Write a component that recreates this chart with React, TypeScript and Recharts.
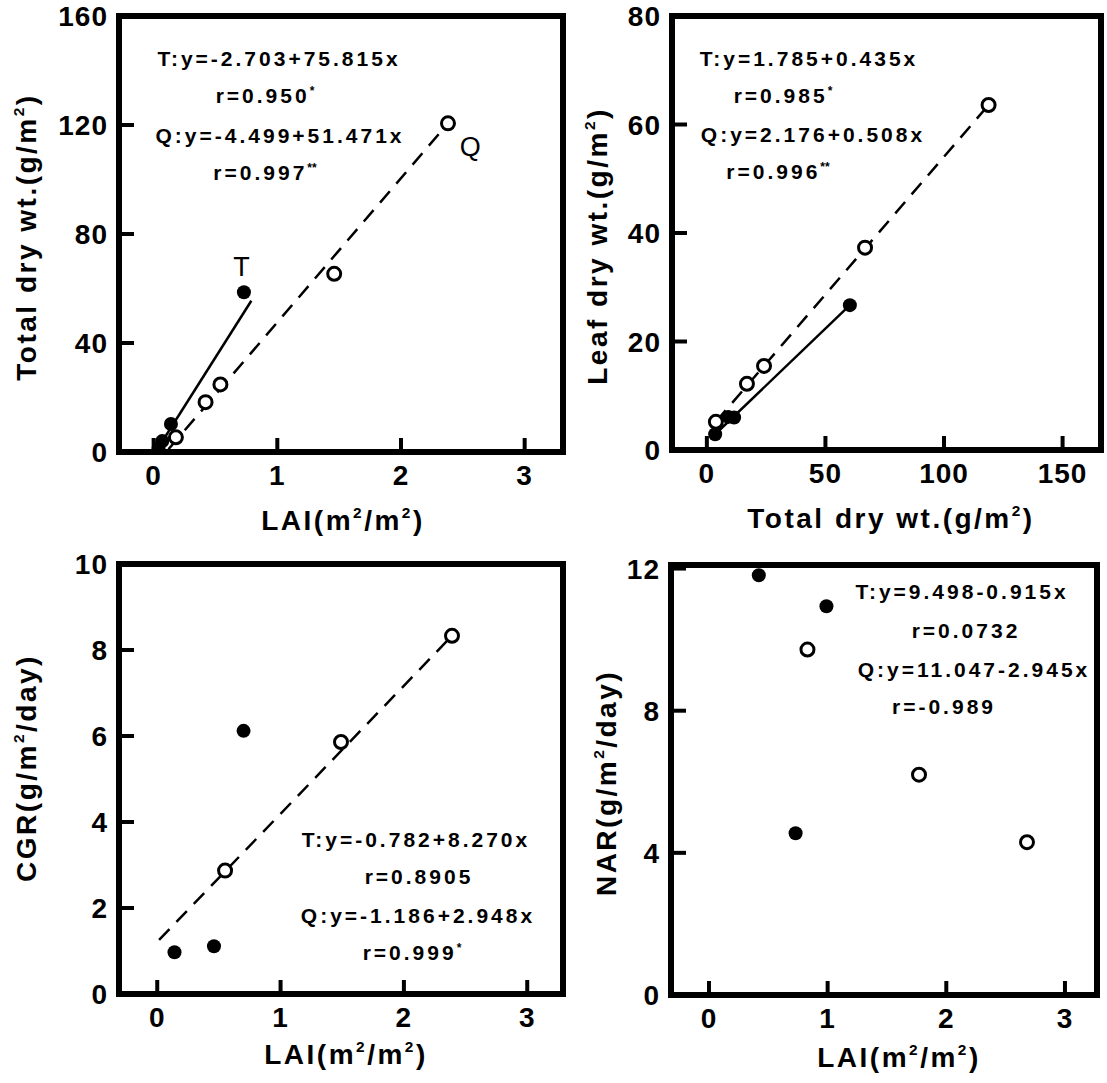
import React from 'react';
import { ScatterChart, Scatter, XAxis, YAxis, ReferenceDot, ReferenceLine } from 'recharts';

const FONT = '"Liberation Sans", Arial, Helvetica, sans-serif';

// top-left: total dry wt. vs LAI
const aLaiT = [0.04, 0.07, 0.14, 0.73];
const aTotT = [1.5, 4, 10.3, 58.6];
const aLaiQ = [0.18, 0.42, 0.54, 1.46, 2.38];
const aTotQ = [5.4, 18.3, 24.8, 65.4, 120.6];
const aFitTx = [0.03, 0.79];
const aFitTy = [1, 55.5];
const aFitQx = [0.12, 2.38];
const aFitQy = [1, 120.6];
const aXTicks = [0, 1, 2, 3];
const aYTicks = [0, 40, 80, 120, 160];

// top-right: leaf dry wt. vs total dry wt.
const bTotT = [3.5, 9, 11.5, 60.3];
const bLeafT = [2.9, 6.1, 6.0, 26.7];
const bTotQ = [3.8, 16.9, 24.1, 66.7, 118.8];
const bLeafQ = [5.2, 12.2, 15.5, 37.3, 63.6];
const bFitTx = [3.5, 60.3];
const bFitTy = [2.9, 26.7];
const bFitQx = [3.8, 118.8];
const bFitQy = [5.2, 63.6];
const bXTicks = [0, 50, 100, 150];
const bYTicks = [0, 20, 40, 60, 80];

// bottom-left: CGR vs LAI
const cLaiT = [0.14, 0.46, 0.7];
const cCgrT = [0.97, 1.11, 6.12];
const cLaiQ = [0.55, 1.49, 2.39];
const cCgrQ = [2.87, 5.86, 8.33];
const cFitQx = [0.015, 2.39];
const cFitQy = [1.26, 8.33];
const cXTicks = [0, 1, 2, 3];
const cYTicks = [0, 2, 4, 6, 8, 10];

// bottom-right: NAR vs LAI
const dLaiT = [0.42, 0.99, 0.73];
const dNarT = [11.81, 10.94, 4.55];
const dLaiQ = [0.83, 1.77, 2.68];
const dNarQ = [9.72, 6.2, 4.3];
const dXTicks = [0, 1, 2, 3];
const dYTicks = [0, 4, 8, 12];

type Pt = { x: number; y: number };
const zip = (xs: number[], ys: number[]): Pt[] => xs.map((x, i) => ({ x, y: ys[i] }));

const Filled = (p: any) => <circle cx={p.cx} cy={p.cy} r={7} fill="#000" />;
const Open = (p: any) => <circle cx={p.cx} cy={p.cy} r={6.5} fill="#fff" stroke="#000" strokeWidth={3} />;
const NoDot = () => <g />;

const labelStyle = { fontFamily: FONT, fontSize: 28, fontWeight: 'bold' as const, letterSpacing: 1 };

const XTick = (p: any) => (
  <text x={p.x} y={p.y} dy="0.71em" textAnchor="middle" fill="#000" {...labelStyle}>{p.payload.value}</text>
);
const YTick = (p: any) => (
  <text x={p.x} y={p.y} dy="0.36em" textAnchor="end" fill="#000" {...labelStyle}>{p.payload.value}</text>
);

type Box = { l: number; t: number; r: number; b: number };

function Panel(props: {
  box: Box;
  xd: [number, number];
  yd: [number, number];
  xt: number[];
  yt: number[];
  filled: Pt[];
  open: Pt[];
  solid?: Pt[];
  dashed?: Pt[];
  marks?: { x: number; y: number; text: string }[];
}) {
  const { box, xd, yd, xt, yt } = props;
  const yw = 110;
  const xh = 70;
  const mt = 30;
  const w = box.r - box.l + yw + 10;
  const h = box.b - box.t + mt + xh;
  // inward tick length (14-15 px) expressed in data units
  const tickY = (14 * (yd[1] - yd[0])) / (box.b - box.t);
  const tickX = (15 * (xd[1] - xd[0])) / (box.r - box.l);
  const edge = { stroke: '#000', strokeWidth: 6, strokeLinecap: 'square' as const, ifOverflow: 'visible' as const };
  return (
    <div style={{ position: 'absolute', left: box.l - yw, top: box.t - mt, width: w, height: h }}>
      <ScatterChart width={w} height={h} margin={{ top: mt, right: 10, left: 0, bottom: 0 }}>
        <XAxis type="number" dataKey="x" domain={xd} ticks={xt} interval={0}
          height={xh} axisLine={false} tickSize={0} tickMargin={13} tickLine={false} tick={XTick} />
        <YAxis type="number" dataKey="y" domain={yd} ticks={yt} interval={0}
          width={yw} axisLine={false} tickSize={0} tickMargin={11} tickLine={false} tick={YTick} />
        {props.solid && (
          <Scatter data={props.solid} fill="none" line={{ stroke: '#000', strokeWidth: 2.5 }}
            shape={NoDot} isAnimationActive={false} />
        )}
        {props.dashed && (
          <Scatter data={props.dashed} fill="none"
            line={{ stroke: '#000', strokeWidth: 2.5, strokeDasharray: '15 10' }}
            shape={NoDot} isAnimationActive={false} />
        )}
        <Scatter data={props.filled} fill="none" shape={Filled} isAnimationActive={false} />
        <Scatter data={props.open} fill="none" shape={Open} isAnimationActive={false} />
        <ReferenceLine x={xd[0]} {...edge} />
        <ReferenceLine x={xd[1]} {...edge} />
        <ReferenceLine y={yd[0]} {...edge} />
        <ReferenceLine y={yd[1]} {...edge} />
        {xt.map((v) => (
          <ReferenceLine key={'xt' + v} segment={[{ x: v, y: yd[0] }, { x: v, y: yd[0] + tickY }]}
            stroke="#000" strokeWidth={4} ifOverflow="visible" />
        ))}
        {yt.map((v) => (
          <ReferenceLine key={'yt' + v} segment={[{ x: xd[0], y: v }, { x: xd[0] + tickX, y: v }]}
            stroke="#000" strokeWidth={4} ifOverflow="visible" />
        ))}
        {(props.marks || []).map((m, i) => (
          <ReferenceDot key={i} x={m.x} y={m.y} r={0} fill="none" stroke="none"
            label={{ value: m.text, position: 'center', fill: '#000', fontSize: 27, fontFamily: FONT }} />
        ))}
      </ScatterChart>
    </div>
  );
}

const Sup = ({ c }: { c: string }) => (
  <sup style={{ fontSize: '0.55em', verticalAlign: 'top', position: 'relative', top: '-0.15em' }}>{c}</sup>
);

function Eq({ x, y, text, mark }: { x: number; y: number; text: string; mark?: string }) {
  return (
    <div style={{
      position: 'absolute', left: x, top: y, transform: 'translate(-50%, -50%)',
      whiteSpace: 'nowrap', fontFamily: FONT, fontWeight: 'bold', fontSize: 21,
      letterSpacing: 3, lineHeight: 1,
    }}>
      {text}
      {mark && <span style={{ fontSize: 12, verticalAlign: 'top', letterSpacing: 0 }}>{mark}</span>}
    </div>
  );
}

function Title({ x, y, rotate, children }: { x: number; y: number; rotate?: boolean; children: React.ReactNode }) {
  return (
    <div style={{
      position: 'absolute', left: x, top: y,
      transform: `translate(-50%, -50%)${rotate ? ' rotate(-90deg)' : ''}`,
      whiteSpace: 'nowrap', fontFamily: FONT, fontSize: 28, fontWeight: 'bold',
      letterSpacing: 2.5, lineHeight: 1,
    }}>
      {children}
    </div>
  );
}

export default function App() {
  return (
    <div style={{ position: 'absolute', left: 0, top: 0, width: 1107, height: 1083, overflow: 'hidden' }}>
      <Panel box={{ l: 119, t: 16, r: 563, b: 452 }} xd={[-0.28, 3.31]} yd={[0, 160]} xt={aXTicks} yt={aYTicks}
        filled={zip(aLaiT, aTotT)} open={zip(aLaiQ, aTotQ)}
        solid={zip(aFitTx, aFitTy)} dashed={zip(aFitQx, aFitQy)}
        marks={[{ x: 0.71, y: 68, text: 'T' }, { x: 2.56, y: 112, text: 'Q' }]} />
      <Panel box={{ l: 672, t: 16, r: 1101, b: 450 }} xd={[-14.7, 166.2]} yd={[0, 80]} xt={bXTicks} yt={bYTicks}
        filled={zip(bTotT, bLeafT)} open={zip(bTotQ, bLeafQ)}
        solid={zip(bFitTx, bFitTy)} dashed={zip(bFitQx, bFitQy)} />
      <Panel box={{ l: 119, t: 564, r: 563, b: 994 }} xd={[-0.31, 3.29]} yd={[0, 10]} xt={cXTicks} yt={cYTicks}
        filled={zip(cLaiT, cCgrT)} open={zip(cLaiQ, cCgrQ)} dashed={zip(cFitQx, cFitQy)} />
      <Panel box={{ l: 671, t: 565, r: 1097, b: 995 }} xd={[-0.32, 3.27]} yd={[0, 12.1]} xt={dXTicks} yt={dYTicks}
        filled={zip(dLaiT, dNarT)} open={zip(dLaiQ, dNarQ)} />

      <Eq x={279} y={58} text="T:y=-2.703+75.815x" />
      <Eq x={265} y={95} text="r=0.950" mark="*" />
      <Eq x={280} y={135} text="Q:y=-4.499+51.471x" />
      <Eq x={265} y={172} text="r=0.997" mark="**" />

      <Eq x={809} y={58} text="T:y=1.785+0.435x" />
      <Eq x={783} y={95} text="r=0.985" mark="*" />
      <Eq x={813} y={134} text="Q:y=2.176+0.508x" />
      <Eq x={778} y={171} text="r=0.996" mark="**" />

      <Eq x={416} y={839} text="T:y=-0.782+8.270x" />
      <Eq x={419} y={876} text="r=0.8905" />
      <Eq x={418} y={915} text="Q:y=-1.186+2.948x" />
      <Eq x={412} y={952} text="r=0.999" mark="*" />

      <Eq x={962} y={591} text="T:y=9.498-0.915x" />
      <Eq x={966} y={630} text="r=0.0732" />
      <Eq x={974} y={669} text="Q:y=11.047-2.945x" />
      <Eq x={944} y={706} text="r=-0.989" />

      <Title x={27} y={237} rotate>Total dry wt.(g/m<Sup c="2" />)</Title>
      <Title x={343} y={521}>LAI(m<Sup c="2" />/m<Sup c="2" />)</Title>
      <Title x={598} y={246} rotate>Leaf dry wt.(g/m<Sup c="2" />)</Title>
      <Title x={891} y={519}>Total dry wt.(g/m<Sup c="2" />)</Title>
      <Title x={27} y={768} rotate>CGR(g/m<Sup c="2" />/day)</Title>
      <Title x={346} y={1055}>LAI(m<Sup c="2" />/m<Sup c="2" />)</Title>
      <Title x={607} y={783} rotate>NAR(g/m<Sup c="2" />/day)</Title>
      <Title x={899} y={1058}>LAI(m<Sup c="2" />/m<Sup c="2" />)</Title>
    </div>
  );
}
